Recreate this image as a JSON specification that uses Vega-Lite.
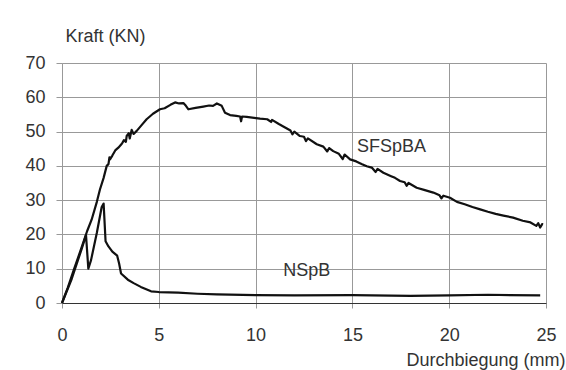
{
  "$schema": "https://vega.github.io/schema/vega-lite/v6.json",
  "width": 484,
  "height": 240,
  "autosize": {"type": "none"},
  "padding": {"left": 62, "top": 63, "right": 20, "bottom": 67},
  "background": "white",
  "config": {
    "view": {"stroke": null},
    "font": "Liberation Sans",
    "axis": {
      "labelFont": "Liberation Sans",
      "titleFont": "Liberation Sans",
      "labelFontSize": 18,
      "titleFontSize": 18,
      "titleFontWeight": "normal",
      "labelColor": "#333",
      "titleColor": "#333",
      "gridColor": "#999",
      "gridOpacity": 1,
      "gridWidth": 1,
      "tickColor": "#999",
      "labelOverlap": false
    }
  },
  "datasets": {
    "curves": [
      {"x": 0, "y": 0, "s": "SFSpBA"},
      {"x": 0.3, "y": 4.5, "s": "SFSpBA"},
      {"x": 0.6, "y": 9.5, "s": "SFSpBA"},
      {"x": 1.0, "y": 16, "s": "SFSpBA"},
      {"x": 1.3, "y": 21, "s": "SFSpBA"},
      {"x": 1.53, "y": 24.3, "s": "SFSpBA"},
      {"x": 1.8, "y": 29.5, "s": "SFSpBA"},
      {"x": 1.96, "y": 33.1, "s": "SFSpBA"},
      {"x": 2.15, "y": 36.5, "s": "SFSpBA"},
      {"x": 2.31, "y": 40, "s": "SFSpBA"},
      {"x": 2.4, "y": 40.5, "s": "SFSpBA"},
      {"x": 2.45, "y": 42.5, "s": "SFSpBA"},
      {"x": 2.48, "y": 41.9, "s": "SFSpBA"},
      {"x": 2.6, "y": 43, "s": "SFSpBA"},
      {"x": 2.75, "y": 44.5, "s": "SFSpBA"},
      {"x": 2.91, "y": 45.3, "s": "SFSpBA"},
      {"x": 3.1, "y": 46.5, "s": "SFSpBA"},
      {"x": 3.2, "y": 47.5, "s": "SFSpBA"},
      {"x": 3.3, "y": 47, "s": "SFSpBA"},
      {"x": 3.34, "y": 48.7, "s": "SFSpBA"},
      {"x": 3.45, "y": 49.5, "s": "SFSpBA"},
      {"x": 3.5, "y": 48, "s": "SFSpBA"},
      {"x": 3.6, "y": 50.5, "s": "SFSpBA"},
      {"x": 3.7, "y": 49.3, "s": "SFSpBA"},
      {"x": 3.86, "y": 50.2, "s": "SFSpBA"},
      {"x": 4.1, "y": 51.8, "s": "SFSpBA"},
      {"x": 4.37, "y": 53.6, "s": "SFSpBA"},
      {"x": 4.7, "y": 55.2, "s": "SFSpBA"},
      {"x": 5.06, "y": 56.5, "s": "SFSpBA"},
      {"x": 5.3, "y": 56.8, "s": "SFSpBA"},
      {"x": 5.6, "y": 57.8, "s": "SFSpBA"},
      {"x": 5.84, "y": 58.5, "s": "SFSpBA"},
      {"x": 6.05, "y": 58.2, "s": "SFSpBA"},
      {"x": 6.27, "y": 58.3, "s": "SFSpBA"},
      {"x": 6.4, "y": 57.5, "s": "SFSpBA"},
      {"x": 6.53, "y": 56.5, "s": "SFSpBA"},
      {"x": 6.9, "y": 56.9, "s": "SFSpBA"},
      {"x": 7.3, "y": 57.3, "s": "SFSpBA"},
      {"x": 7.6, "y": 57.6, "s": "SFSpBA"},
      {"x": 7.8, "y": 57.5, "s": "SFSpBA"},
      {"x": 8.0, "y": 58.2, "s": "SFSpBA"},
      {"x": 8.25, "y": 57.5, "s": "SFSpBA"},
      {"x": 8.42, "y": 55.5, "s": "SFSpBA"},
      {"x": 8.68, "y": 54.8, "s": "SFSpBA"},
      {"x": 9.0, "y": 54.6, "s": "SFSpBA"},
      {"x": 9.2, "y": 54.4, "s": "SFSpBA"},
      {"x": 9.25, "y": 53, "s": "SFSpBA"},
      {"x": 9.3, "y": 54.4, "s": "SFSpBA"},
      {"x": 9.54, "y": 54.3, "s": "SFSpBA"},
      {"x": 10.23, "y": 53.8, "s": "SFSpBA"},
      {"x": 10.6, "y": 53.6, "s": "SFSpBA"},
      {"x": 10.8, "y": 52.8, "s": "SFSpBA"},
      {"x": 10.85, "y": 53.4, "s": "SFSpBA"},
      {"x": 11.2, "y": 52.2, "s": "SFSpBA"},
      {"x": 11.43, "y": 51.5, "s": "SFSpBA"},
      {"x": 11.8, "y": 50.3, "s": "SFSpBA"},
      {"x": 11.9, "y": 49.2, "s": "SFSpBA"},
      {"x": 12.0, "y": 50, "s": "SFSpBA"},
      {"x": 12.29, "y": 48.7, "s": "SFSpBA"},
      {"x": 12.5, "y": 48.5, "s": "SFSpBA"},
      {"x": 12.6, "y": 47.2, "s": "SFSpBA"},
      {"x": 12.7, "y": 48, "s": "SFSpBA"},
      {"x": 13.16, "y": 46.3, "s": "SFSpBA"},
      {"x": 13.5, "y": 45.6, "s": "SFSpBA"},
      {"x": 13.7, "y": 44.2, "s": "SFSpBA"},
      {"x": 13.8, "y": 45.2, "s": "SFSpBA"},
      {"x": 14.01, "y": 44.3, "s": "SFSpBA"},
      {"x": 14.3, "y": 43.5, "s": "SFSpBA"},
      {"x": 14.5, "y": 42, "s": "SFSpBA"},
      {"x": 14.6, "y": 43.3, "s": "SFSpBA"},
      {"x": 14.88, "y": 41.9, "s": "SFSpBA"},
      {"x": 15.2, "y": 41.3, "s": "SFSpBA"},
      {"x": 15.5, "y": 40.5, "s": "SFSpBA"},
      {"x": 15.74, "y": 39.9, "s": "SFSpBA"},
      {"x": 16.0, "y": 39.5, "s": "SFSpBA"},
      {"x": 16.2, "y": 38.2, "s": "SFSpBA"},
      {"x": 16.3, "y": 39.1, "s": "SFSpBA"},
      {"x": 16.6, "y": 38, "s": "SFSpBA"},
      {"x": 17.0, "y": 37, "s": "SFSpBA"},
      {"x": 17.2, "y": 36.5, "s": "SFSpBA"},
      {"x": 17.46, "y": 35.6, "s": "SFSpBA"},
      {"x": 17.7, "y": 35.2, "s": "SFSpBA"},
      {"x": 17.8, "y": 34.2, "s": "SFSpBA"},
      {"x": 17.9, "y": 35, "s": "SFSpBA"},
      {"x": 18.32, "y": 33.6, "s": "SFSpBA"},
      {"x": 18.7, "y": 33, "s": "SFSpBA"},
      {"x": 19.18, "y": 32.2, "s": "SFSpBA"},
      {"x": 19.5, "y": 31.4, "s": "SFSpBA"},
      {"x": 19.6, "y": 30.5, "s": "SFSpBA"},
      {"x": 19.7, "y": 31.3, "s": "SFSpBA"},
      {"x": 20.04, "y": 30.7, "s": "SFSpBA"},
      {"x": 20.4, "y": 29.5, "s": "SFSpBA"},
      {"x": 20.8, "y": 28.8, "s": "SFSpBA"},
      {"x": 21.2, "y": 28, "s": "SFSpBA"},
      {"x": 21.6, "y": 27.3, "s": "SFSpBA"},
      {"x": 22.0, "y": 26.6, "s": "SFSpBA"},
      {"x": 22.4, "y": 26, "s": "SFSpBA"},
      {"x": 22.8, "y": 25.5, "s": "SFSpBA"},
      {"x": 23.3, "y": 24.9, "s": "SFSpBA"},
      {"x": 23.8, "y": 24, "s": "SFSpBA"},
      {"x": 24.2, "y": 23.5, "s": "SFSpBA"},
      {"x": 24.5, "y": 22.5, "s": "SFSpBA"},
      {"x": 24.6, "y": 23.3, "s": "SFSpBA"},
      {"x": 24.7, "y": 22, "s": "SFSpBA"},
      {"x": 24.8, "y": 23, "s": "SFSpBA"},
      {"x": 24.85, "y": 22.9, "s": "SFSpBA"},
      {"x": 0, "y": 0, "s": "NSpB"},
      {"x": 0.5, "y": 7, "s": "NSpB"},
      {"x": 1.0, "y": 15.5, "s": "NSpB"},
      {"x": 1.24, "y": 19.8, "s": "NSpB"},
      {"x": 1.36, "y": 10, "s": "NSpB"},
      {"x": 1.5, "y": 12.5, "s": "NSpB"},
      {"x": 1.8, "y": 20.5, "s": "NSpB"},
      {"x": 2.05, "y": 28, "s": "NSpB"},
      {"x": 2.15, "y": 29, "s": "NSpB"},
      {"x": 2.25, "y": 18, "s": "NSpB"},
      {"x": 2.4, "y": 16.5, "s": "NSpB"},
      {"x": 2.6, "y": 15, "s": "NSpB"},
      {"x": 2.85, "y": 13.8, "s": "NSpB"},
      {"x": 2.95, "y": 11.5, "s": "NSpB"},
      {"x": 3.05, "y": 8.6, "s": "NSpB"},
      {"x": 3.4, "y": 6.8, "s": "NSpB"},
      {"x": 3.7, "y": 5.8, "s": "NSpB"},
      {"x": 4.07, "y": 4.7, "s": "NSpB"},
      {"x": 4.6, "y": 3.4, "s": "NSpB"},
      {"x": 5.0, "y": 3.2, "s": "NSpB"},
      {"x": 6.0, "y": 3.0, "s": "NSpB"},
      {"x": 7.0, "y": 2.7, "s": "NSpB"},
      {"x": 8.0, "y": 2.5, "s": "NSpB"},
      {"x": 10.0, "y": 2.3, "s": "NSpB"},
      {"x": 12.0, "y": 2.2, "s": "NSpB"},
      {"x": 15.0, "y": 2.3, "s": "NSpB"},
      {"x": 18.0, "y": 2.1, "s": "NSpB"},
      {"x": 20.0, "y": 2.2, "s": "NSpB"},
      {"x": 22.0, "y": 2.4, "s": "NSpB"},
      {"x": 24.7, "y": 2.2, "s": "NSpB"}
    ],
    "labels": [
      {"x": 15.24, "y": 43.9, "t": "SFSpBA"},
      {"x": 11.43, "y": 7.8, "t": "NSpB"}
    ]
  },
  "layer": [
    {
      "data": {"name": "curves"},
      "mark": {"type": "line", "color": "#111", "strokeWidth": 2.2, "strokeJoin": "round"},
      "encoding": {
        "x": {
          "field": "x", "type": "quantitative",
          "scale": {"domain": [0, 25], "nice": false},
          "axis": {
            "values": [0, 5, 10, 15, 20, 25],
            "tickCount": 6,
            "title": "Durchbiegung (mm)",
            "titleAngle": 0,
            "titleAlign": "right",
            "titleBaseline": "alphabetic",
            "titleX": 503,
            "titleY": 62,
            "tickSize": 5,
            "labelPadding": 18,
            "domainColor": "#333",
            "labelFlush": false
          }
        },
        "y": {
          "field": "y", "type": "quantitative",
          "scale": {"domain": [0, 70], "nice": false},
          "axis": {
            "values": [0, 10, 20, 30, 40, 50, 60, 70],
            "tickCount": 8,
            "title": "Kraft (KN)",
            "titleAngle": 0,
            "titleAlign": "left",
            "titleBaseline": "alphabetic",
            "titleX": 3,
            "titleY": -22,
            "tickSize": 6,
            "labelPadding": 11,
            "domainColor": "#999",
            "labelFlush": false
          }
        },
        "detail": {"field": "s"},
        "order": {"field": "x", "type": "quantitative"}
      }
    },
    {
      "data": {"name": "labels"},
      "mark": {"type": "text", "align": "left", "baseline": "alphabetic", "fontSize": 18, "font": "Liberation Sans", "color": "#333"},
      "encoding": {
        "x": {"field": "x", "type": "quantitative"},
        "y": {"field": "y", "type": "quantitative"},
        "text": {"field": "t"}
      }
    }
  ]
}
